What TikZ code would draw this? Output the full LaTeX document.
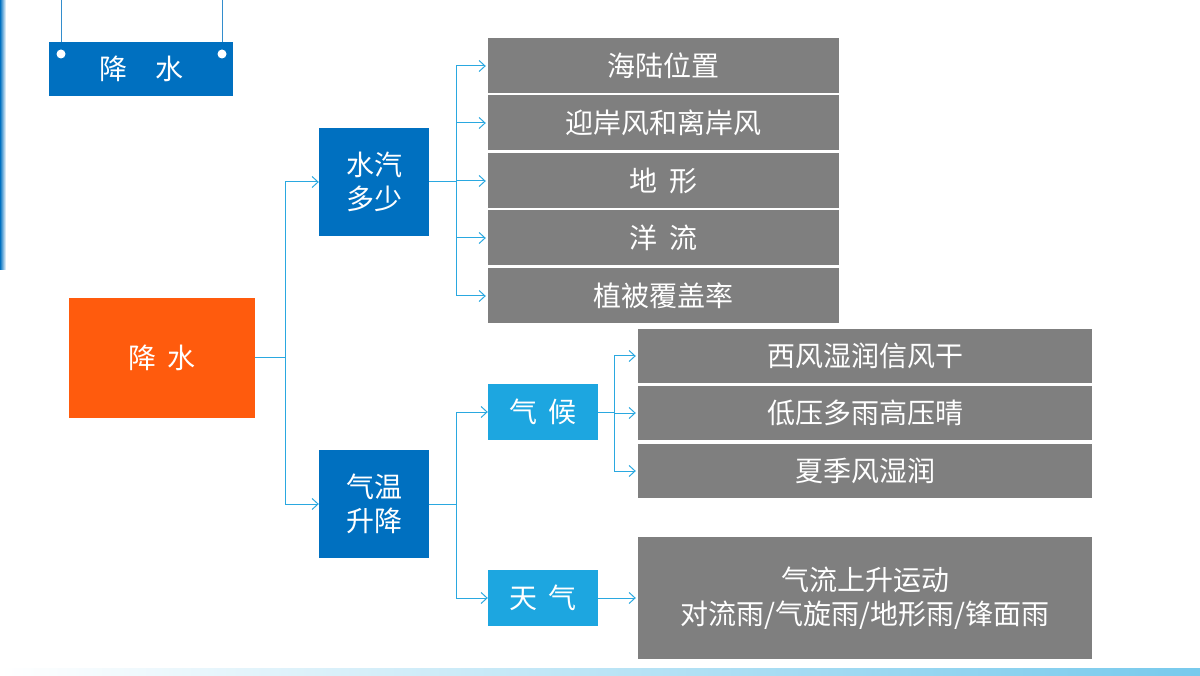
\documentclass[tikz,border=0pt]{standalone}
\usepackage{fontspec}
\setmainfont{Noto Sans CJK SC}
\usetikzlibrary{arrows.meta}
\definecolor{dblue}{HTML}{0070C0}
\definecolor{lblue}{HTML}{1DA6E0}
\definecolor{orng}{HTML}{FF5B0D}
\definecolor{gry}{HTML}{7F7F7F}
\definecolor{ln}{HTML}{2AA8E0}
\begin{document}
\begin{tikzpicture}[x=1pt,y=-1pt,
 box/.style={draw=none,text=white,inner sep=0pt,align=center,font=\fontsize{28}{34}\selectfont},
 ar/.style={draw=ln,line width=1pt,-{Straight Barb[length=6pt,width=11pt]}},
 cn/.style={draw=ln,line width=1pt}]
\useasboundingbox (0,0) rectangle (1200,676);
\shade[left color=dblue,right color=white] (0,0) rectangle (6,270);
\shade[left color=white,right color=lblue!60] (0,668) rectangle (1200,676);
% top sign
\draw[dblue!80,line width=0.8pt] (61,0) -- (61,44) (222,0) -- (222,44);
\node[box,fill=dblue,minimum width=184pt,minimum height=54pt] (top) at (141,69) {降\hspace{1em}水};
\fill[white] (61,54) circle (4.5) (222,54) circle (4.5);
% main
\node[box,fill=orng,minimum width=186pt,minimum height=120pt] (js) at (162,358) {降\hspace{0.4em}水};
\node[box,fill=dblue,minimum width=110pt,minimum height=108pt] (sq) at (374,182) {水汽\\多少};
\node[box,fill=dblue,minimum width=110pt,minimum height=108pt] (qw) at (374,504) {气温\\升降};
\node[box,fill=lblue,minimum width=110pt,minimum height=56pt] (qh) at (543,412) {气\hspace{0.4em}候};
\node[box,fill=lblue,minimum width=110pt,minimum height=56pt] (tq) at (543,598) {天\hspace{0.4em}气};
\foreach \n/\y/\t in {g1/66/海陆位置,g2/123/迎岸风和离岸风,g3/181/地\hspace{0.4em}形,g4/238/洋\hspace{0.4em}流,g5/296/植被覆盖率/水域面积}
  \node[box,fill=gry,minimum width=351pt,minimum height=55pt] (\n) at (663.5,\y) {\t};
\foreach \n/\y/\t in {h1/356/西风湿润信风干,h2/413/低压多雨高压晴,h3/471/夏季风湿润/冬季风干燥}
  \node[box,fill=gry,minimum width=454pt,minimum height=54pt] (\n) at (865,\y) {\t};
\node[box,fill=gry,minimum width=454pt,minimum height=122pt] (h4) at (865,598) {气流上升运动\\对流雨/气旋雨/地形雨/锋面雨};
% connectors
\coordinate (a1) at (285,358);
\draw[cn] (js.east) -- (a1);
\draw[ar] (a1) |- (sq.west);
\draw[ar] (a1) |- (qw.west);
\coordinate (b1) at (456,182);
\draw[cn] (sq.east) -- (b1);
\foreach \n in {g1,g2,g3,g4,g5} \draw[ar] (b1) |- ([xshift=-2pt]\n.west);
\coordinate (c1) at (456,504);
\draw[cn] (qw.east) -- (c1);
\draw[ar] (c1) |- (qh.west);
\draw[ar] (c1) |- (tq.west);
\coordinate (d1) at (614,412);
\draw[cn] (qh.east) -- (d1);
\foreach \n in {h1,h2,h3} \draw[ar] (d1) |- ([xshift=-2pt]\n.west);
\draw[ar] (tq.east) -- ([xshift=-2pt]h4.west);
\end{tikzpicture}
\end{document}
